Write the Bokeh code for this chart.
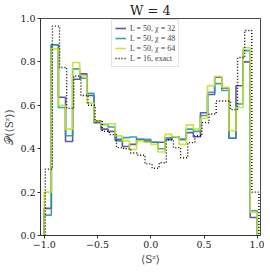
import numpy as np
from bokeh.plotting import figure
from bokeh.models import Range1d, Legend, LegendItem, FixedTicker
from bokeh.embed import file_html
from bokeh.resources import INLINE

# ---- data ----
n_bins = 30
mps_range = (-1.0, 1.0)
exact_range = (-0.99, 1.015)

chi32 = [0.125, 0.879, 0.637, 0.433, 0.72, 0.745, 0.645, 0.52, 0.49, 0.48,
         0.443, 0.41, 0.42, 0.443, 0.435, 0.43, 0.43, 0.443, 0.455, 0.443,
         0.474, 0.455, 0.566, 0.65, 0.729, 0.68, 0.448, 0.69, 0.80, 0.083]
chi48 = [0.094, 0.879, 0.59, 0.46, 0.768, 0.725, 0.655, 0.528, 0.512, 0.50,
         0.436, 0.451, 0.454, 0.443, 0.443, 0.43, 0.40, 0.45, 0.455, 0.443,
         0.49, 0.48, 0.553, 0.66, 0.70, 0.668, 0.448, 0.606, 0.852, 0.114]
chi64 = [0.20, 0.86, 0.60, 0.49, 0.797, 0.735, 0.61, 0.528, 0.51, 0.515,
         0.459, 0.436, 0.397, 0.436, 0.43, 0.42, 0.385, 0.466, 0.455, 0.42,
         0.51, 0.49, 0.54, 0.69, 0.733, 0.683, 0.483, 0.59, 0.865, 0.106]
exact16 = [0.306, 0.965, 0.774, 0.586, 0.735, 0.645, 0.60, 0.528, 0.48, 0.465,
           0.405, 0.40, 0.38, 0.37, 0.33, 0.31, 0.335, 0.44, 0.405, 0.358,
           0.428, 0.46, 0.52, 0.56, 0.62, 0.62, 0.58, 0.82, 0.945, 0.20]

labels = ["L = 50, χ = 32", "L = 50, χ = 48", "L = 50, χ = 64", "L = 16, exact"]
colors = ["#54459a", "#2a9a96", "#c2e22e", "black"]

x_ticks = [-1.0, -0.5, 0.0, 0.5, 1.0]
x_tick_labels = ["−1.0", "−0.5", "0.0", "0.5", "1.0"]
y_ticks = [0.0, 0.2, 0.4, 0.6, 0.8, 1.0]
y_tick_labels = ["0.0", "0.2", "0.4", "0.6", "0.8", "1.0"]

title_text = "W = 4"
x_label = "⟨Sᶻ⟩"
y_label = "𝒫(⟨Sᶻ⟩)"


def step_path(lo, hi, vals):
    e = np.linspace(lo, hi, len(vals) + 1)
    xs = np.repeat(e, 2)
    ys = np.concatenate([[0.0], np.repeat(np.asarray(vals, float), 2), [0.0]])
    return xs, ys


FONT = "DejaVu Serif"

p = figure(frame_width=220, frame_height=217, output_backend="svg", toolbar_location=None,
           x_range=Range1d(-1.035, 1.03), y_range=Range1d(0.0, 1.0),
           min_border_left=30, min_border_top=13, min_border_right=4,
           min_border_bottom=0, title=title_text)
p.grid.visible = False
p.outline_line_color = "#333333"
p.outline_line_width = 0.9
p.title.align = "center"
p.title.text_font = FONT
p.title.text_font_size = "13px"
p.title.text_font_style = "normal"
p.title.text_color = "#222222"
p.title.standoff = 1
p.title.offset = 0

renderers = []
for vals, col in zip([chi32, chi48, chi64], colors[:3]):
    xs, ys = step_path(mps_range[0], mps_range[1], vals)
    r = p.line(xs, ys, line_color=col, line_width=1.6, line_alpha=0.9)
    renderers.append(r)
xs, ys = step_path(exact_range[0], exact_range[1], exact16)
r = p.line(xs, ys, line_color="black", line_width=1.4, line_dash="1 2")
renderers.append(r)

legend = Legend(items=[LegendItem(label=l, renderers=[r]) for l, r in zip(labels, renderers)],
                location=(71, 168))
legend.label_text_font = "Liberation Serif"
legend.label_text_font_size = "8px"
legend.label_height = 9
legend.glyph_height = 10
legend.glyph_width = 11
legend.label_standoff = 4
legend.spacing = 0
legend.padding = 3
legend.margin = 0
legend.border_line_color = "#cccccc"
legend.border_line_width = 0.8
legend.background_fill_alpha = 0.85
p.add_layout(legend, "center")

for ax in (p.xaxis[0], p.yaxis[0]):
    ax.major_tick_in = 0
    ax.major_tick_out = 3
    ax.minor_tick_out = 0
    ax.minor_tick_in = 0
    ax.major_label_text_font = FONT
    ax.major_label_text_font_size = "9.5px"
    ax.major_label_text_color = "#222222"
    ax.axis_label_text_font = FONT
    ax.axis_label_text_font_style = "normal"
    ax.axis_label_text_font_size = "10.5px"
    ax.axis_line_color = "#333333"
    ax.major_tick_line_color = "#333333"
    ax.major_label_standoff = 2

p.xaxis.ticker = FixedTicker(ticks=x_ticks)
p.xaxis.major_label_overrides = dict(zip(x_ticks, x_tick_labels))
p.yaxis.ticker = FixedTicker(ticks=y_ticks)
p.yaxis.major_label_overrides = dict(zip(y_ticks, y_tick_labels))
p.xaxis.axis_label = x_label
p.yaxis.axis_label = y_label
p.xaxis.axis_label_standoff = 2
p.yaxis.axis_label_standoff = 2

open("out.html", "w").write(file_html(p, INLINE))
